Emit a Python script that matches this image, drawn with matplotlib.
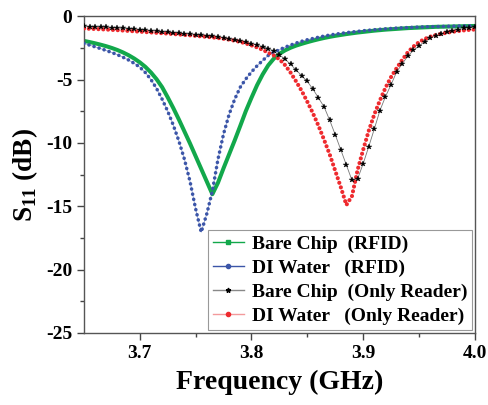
import numpy as np
import matplotlib
matplotlib.use("Agg")
import matplotlib.pyplot as plt
from matplotlib.lines import Line2D

plt.rcParams['font.family'] = ['Liberation Serif', 'DejaVu Serif']
plt.rcParams['font.weight'] = 'bold'
plt.rcParams['mathtext.fontset'] = 'custom'
plt.rcParams['mathtext.rm'] = 'Liberation Serif:bold'
plt.rcParams['mathtext.bf'] = 'Liberation Serif:bold'
plt.rcParams['axes.unicode_minus'] = False

# frequency grid (GHz), 3.650 ... 4.000 in 5 MHz steps
freq = [3.650, 3.655, 3.660, 3.665, 3.670, 3.675, 3.680, 3.685, 3.690, 3.695,
        3.700, 3.705, 3.710, 3.715, 3.720, 3.725, 3.730, 3.735, 3.740, 3.745,
        3.750, 3.755, 3.760, 3.765, 3.770, 3.775, 3.780, 3.785, 3.790, 3.795,
        3.800, 3.805, 3.810, 3.815, 3.820, 3.825, 3.830, 3.835, 3.840, 3.845,
        3.850, 3.855, 3.860, 3.865, 3.870, 3.875, 3.880, 3.885, 3.890, 3.895,
        3.900, 3.905, 3.910, 3.915, 3.920, 3.925, 3.930, 3.935, 3.940, 3.945,
        3.950, 3.955, 3.960, 3.965, 3.970, 3.975, 3.980, 3.985, 3.990, 3.995,
        4.000]

# S11 (dB)
bare_rfid = [-1.95, -2.04, -2.14, -2.25, -2.37, -2.51, -2.67, -2.86, -3.08, -3.34,
             -3.64, -4.00, -4.44, -4.97, -5.60, -6.40, -7.25, -8.15, -9.10, -10.05,
             -11.05, -12.05, -13.05, -14.05, -13.15, -12.00, -10.90, -9.80, -8.65, -7.48,
             -6.44, -5.45, -4.60, -3.88, -3.35, -2.97, -2.70, -2.49, -2.32, -2.18,
             -2.05, -1.93, -1.82, -1.72, -1.63, -1.55, -1.48, -1.41, -1.35, -1.29,
             -1.24, -1.19, -1.14, -1.10, -1.06, -1.03, -1.00, -0.97, -0.94, -0.92,
             -0.90, -0.88, -0.86, -0.84, -0.83, -0.82, -0.81, -0.80, -0.79, -0.78,
             -0.77]
water_rfid = [-2.15, -2.28, -2.42, -2.56, -2.71, -2.87, -3.04, -3.24, -3.46, -3.72,
              -4.02, -4.45, -5.00, -5.70, -6.55, -7.50, -8.60, -9.85, -11.30, -13.05,
              -15.20, -17.05, -15.60, -13.80, -11.30, -9.30, -7.75, -6.55, -5.60, -4.95,
              -4.40, -3.92, -3.50, -3.10, -2.85, -2.65, -2.45, -2.28, -2.12, -1.98,
              -1.86, -1.76, -1.66, -1.57, -1.49, -1.42, -1.36, -1.30, -1.25, -1.20,
              -1.15, -1.11, -1.07, -1.03, -1.00, -0.97, -0.94, -0.92, -0.90, -0.88,
              -0.86, -0.84, -0.83, -0.82, -0.81, -0.80, -0.79, -0.78, -0.77, -0.76,
              -0.75]
bare_reader = [-0.80, -0.82, -0.84, -0.86, -0.88, -0.90, -0.93, -0.96, -0.99, -1.02,
               -1.06, -1.10, -1.14, -1.18, -1.22, -1.26, -1.30, -1.34, -1.38, -1.42,
               -1.46, -1.50, -1.55, -1.60, -1.65, -1.71, -1.78, -1.86, -1.95, -2.05,
               -2.16, -2.28, -2.42, -2.55, -2.78, -3.05, -3.38, -3.80, -4.25, -4.70,
               -5.15, -5.75, -6.45, -7.15, -8.20, -9.35, -10.55, -11.75, -12.95, -12.85,
               -11.65, -10.30, -8.90, -7.45, -6.35, -5.40, -4.40, -3.75, -3.15, -2.70,
               -2.35, -2.00, -1.72, -1.55, -1.40, -1.27, -1.15, -1.05, -0.97, -0.90,
               -0.85]
water_reader = [-0.97, -0.99, -1.01, -1.03, -1.05, -1.08, -1.10, -1.13, -1.16, -1.19,
                -1.22, -1.25, -1.28, -1.31, -1.34, -1.37, -1.41, -1.44, -1.48, -1.51,
                -1.55, -1.59, -1.63, -1.67, -1.72, -1.78, -1.85, -1.93, -2.03, -2.15,
                -2.30, -2.46, -2.65, -2.88, -3.10, -3.40, -3.85, -4.45, -5.15, -5.90,
                -6.75, -7.65, -8.65, -9.75, -10.90, -12.20, -13.50, -14.90, -14.20, -12.15,
                -10.55, -9.05, -7.75, -6.65, -5.65, -4.80, -4.10, -3.45, -2.85, -2.40,
                -2.05, -1.80, -1.62, -1.49, -1.39, -1.30, -1.23, -1.17, -1.12, -1.08,
                -1.05]

labels = ['Bare Chip  (RFID)', 'DI Water   (RFID)',
          'Bare Chip  (Only Reader)', 'DI Water   (Only Reader)']

green = '#12a84b'
blue = '#3b55a8'
red = '#ee2a2e'

fig = plt.figure(figsize=(4.88, 4.05), dpi=100)
ax = fig.add_axes([0.172, 0.178, 0.801, 0.782])

ax.plot(freq, bare_rfid, color=green, lw=2.9, solid_capstyle='round', zorder=2)
ax.plot(freq, water_rfid, color=blue, lw=0.6, alpha=0.5, zorder=3)
ax.plot(freq, water_rfid, color=blue, lw=2.6, linestyle=(0, (0.01, 1.45)),
        dash_capstyle='round', zorder=3)
ax.plot(freq, bare_reader, color='#777777', lw=0.6, zorder=4)
ax.plot(freq, bare_reader, ls='none', marker='*', ms=4.2, color='black',
        markeredgewidth=0.3, zorder=5)
ax.plot(freq, water_reader, color=red, lw=3.0, linestyle=(0, (0.01, 1.15)),
        dash_capstyle='round', zorder=4)

ax.set_xlim(3.65, 4.0)
ax.set_ylim(-25, 0)
ax.set_xticks([3.7, 3.8, 3.9, 4.0])
ax.set_xticks([3.75, 3.85, 3.95], minor=True)
ax.set_yticks([0, -5, -10, -15, -20, -25])
ax.set_yticks([-2.5, -7.5, -12.5, -17.5, -22.5], minor=True)
ax.set_xticklabels(['3.7', '3.8', '3.9', '4.0'])
ax.tick_params(which='both', direction='out', color='#444444', width=1.0,
               labelsize=14)
ax.tick_params(which='major', length=5)
ax.tick_params(which='minor', length=3)
for s in ax.spines.values():
    s.set_color('#555555')
    s.set_linewidth(1.0)
for lab in ax.get_xticklabels() + ax.get_yticklabels():
    lab.set_fontweight('bold')

ax.set_xlabel('Frequency (GHz)', fontsize=20, fontweight='bold', labelpad=6)
ax.set_ylabel('S$_{11}$ (dB)', fontsize=19.5, fontweight='bold', labelpad=4)

handles = [
    Line2D([], [], color=green, lw=1.0, marker='s', ms=3),
    Line2D([], [], color=blue, lw=1.0, marker='o', ms=3),
    Line2D([], [], color='#888888', lw=1.0, marker='*', ms=3.5, mfc='black', mec='black'),
    Line2D([], [], color='#f39a9c', lw=1.0, marker='o', ms=3, mfc=red, mec=red),
]
leg = ax.legend(handles, labels, loc='lower right',
                prop={'weight': 'bold', 'size': 14}, frameon=True,
                fancybox=False, edgecolor='#999999', framealpha=1,
                handlelength=1.6, handletextpad=0.4, labelspacing=0.33,
                borderpad=0.25, borderaxespad=0.15)
leg.get_frame().set_linewidth(0.8)

fig.savefig('out.png', dpi=100)
